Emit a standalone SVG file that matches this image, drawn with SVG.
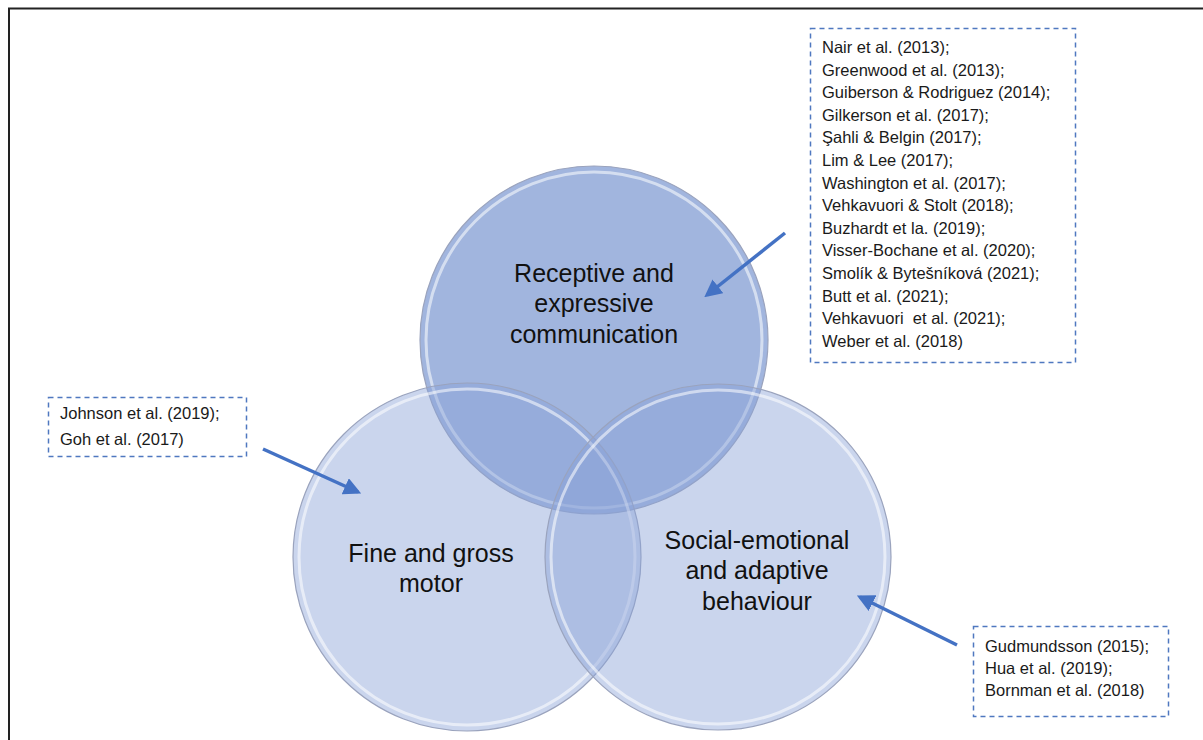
<svg xmlns="http://www.w3.org/2000/svg" width="1203" height="740" viewBox="0 0 1203 740">
<style>
.circ{stroke:#9aa3bd;stroke-width:1.2}
.top{fill:#8aa2d6;fill-opacity:0.8}
.side{fill:#8aa2d6;fill-opacity:0.45}
.rim{fill:none;stroke:#ffffff;stroke-opacity:0.55;stroke-width:3}
.big{font-family:"Liberation Sans",Arial,sans-serif;font-size:25px;fill:#111;text-anchor:middle}
.small{font-family:"Liberation Sans",Arial,sans-serif;font-size:16.5px;fill:#1a1a1a}
.box{fill:#ffffff;stroke:#4f78c0;stroke-width:1.5;stroke-dasharray:5 4}
.arrow{stroke:#4472c4;stroke-width:3.5;fill:none}
</style>
<defs>
<marker id="ah" viewBox="0 0 10 10" refX="8" refY="5" markerWidth="5" markerHeight="5" orient="auto" markerUnits="strokeWidth">
<path d="M0,0 L10,5 L0,10 z" fill="#4472c4"/>
</marker>
</defs>
<rect x="0" y="0" width="1203" height="740" fill="#ffffff"/>
<path d="M9,740 L9,8.5 L1203,8.5" fill="none" stroke="#222" stroke-width="2"/>

<g id="node-receptive">
<circle class="circ top" cx="594" cy="340" r="174"/>
<circle class="rim" cx="594" cy="340" r="168"/>
</g>
<g id="node-motor">
<circle class="circ side" cx="467" cy="557" r="174"/>
<circle class="rim" cx="467" cy="557" r="168"/>
</g>
<g id="node-social">
<circle class="circ side" cx="718" cy="557" r="173"/>
<circle class="rim" cx="718" cy="557" r="167"/>
</g>

<g id="labels">
<text class="big" x="594" y="282">Receptive and</text>
<text class="big" x="594" y="312">expressive</text>
<text class="big" x="594" y="343">communication</text>
<text class="big" x="431" y="562">Fine and gross</text>
<text class="big" x="431" y="592">motor</text>
<text class="big" x="757" y="549">Social-emotional</text>
<text class="big" x="757" y="579">and adaptive</text>
<text class="big" x="757" y="610">behaviour</text>
</g>

<g id="node-refs-communication">
<rect class="box" x="810.5" y="28.5" width="265" height="334"/>
<text class="small" x="822" y="53">Nair et al. (2013);</text>
<text class="small" x="822" y="75.6">Greenwood et al. (2013);</text>
<text class="small" x="822" y="98.2">Guiberson &amp; Rodriguez (2014);</text>
<text class="small" x="822" y="120.8">Gilkerson et al. (2017);</text>
<text class="small" x="822" y="143.4">Şahli &amp; Belgin (2017);</text>
<text class="small" x="822" y="166">Lim &amp; Lee (2017);</text>
<text class="small" x="822" y="188.6">Washington et al. (2017);</text>
<text class="small" x="822" y="211.2">Vehkavuori &amp; Stolt (2018);</text>
<text class="small" x="822" y="233.8">Buzhardt et la. (2019);</text>
<text class="small" x="822" y="256.4">Visser-Bochane et al. (2020);</text>
<text class="small" x="822" y="279">Smolík &amp; Bytešníková (2021);</text>
<text class="small" x="822" y="301.6">Butt et al. (2021);</text>
<text class="small" x="822" y="324.2" xml:space="preserve">Vehkavuori  et al. (2021);</text>
<text class="small" x="822" y="346.8">Weber et al. (2018)</text>
</g>

<g id="node-refs-motor">
<rect class="box" x="48.5" y="397.5" width="198" height="59"/>
<text class="small" x="60" y="419">Johnson et al. (2019);</text>
<text class="small" x="60" y="445">Goh et al. (2017)</text>
</g>

<g id="node-refs-social">
<rect class="box" x="973.5" y="626.5" width="195" height="90"/>
<text class="small" x="985" y="652">Gudmundsson (2015);</text>
<text class="small" x="985" y="674">Hua et al. (2019);</text>
<text class="small" x="985" y="696">Bornman et al. (2018)</text>
</g>

<g id="connectors">
<line class="arrow" x1="785" y1="233" x2="707" y2="295" marker-end="url(#ah)"/>
<line class="arrow" x1="263" y1="449" x2="358" y2="492" marker-end="url(#ah)"/>
<line class="arrow" x1="957" y1="645" x2="860" y2="597" marker-end="url(#ah)"/>
</g>
</svg>
